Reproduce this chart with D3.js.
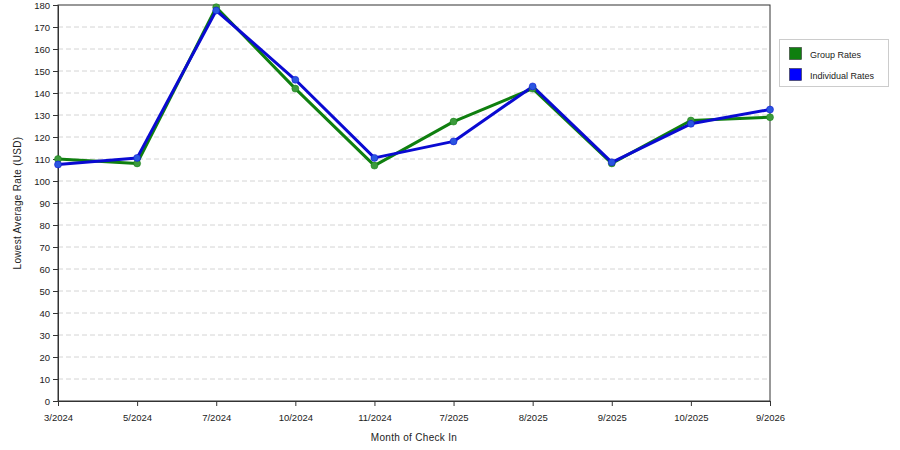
<!DOCTYPE html>
<html><head><meta charset="utf-8">
<script src="https://cdn.jsdelivr.net/npm/d3@7"></script>
<style>body{margin:0;background:#fff;} svg{display:block;font-family:"Liberation Sans",Arial,sans-serif;}</style>
</head><body>
<svg id="c" width="900" height="450"></svg>
<script>
const categories = ["3/2024","5/2024","7/2024","10/2024","11/2024","7/2025","8/2025","9/2025","10/2025","9/2026"];
const groupRates = [110, 108, 179, 142, 107, 127, 142, 108, 127.5, 129];
const individualRates = [107.5, 110.5, 177.5, 146, 110.5, 118, 143, 108.5, 126, 132.5];
const yTicks = d3.range(0, 181, 10);
const seriesNames = ["Group Rates", "Individual Rates"];
const lineColors = ["#0f7f0f", "#0a0ad2"];
const markerColors = ["#3c9a3c", "#2a55e0"];

const svg = d3.select("#c");
const m = {l:58, r:770, t:5, b:401};
const x = d3.scalePoint().domain(categories).range([m.l, m.r]).padding(0);
const y = d3.scaleLinear().domain([0,180]).range([m.b, m.t]);

// gridlines
svg.append("g").selectAll("line").data(yTicks.filter(d=>d>0 && d<180)).join("line")
  .attr("x1", m.l).attr("x2", m.r).attr("y1", d=>y(d)).attr("y2", d=>y(d))
  .attr("stroke", "#d4d4d4").attr("stroke-dasharray", "5,3").attr("stroke-width", 1);

// frame
svg.append("rect").attr("x", m.l).attr("y", m.t).attr("width", m.r-m.l).attr("height", m.b-m.t)
  .attr("fill","none").attr("stroke","#333").attr("stroke-width",1);

// axes
const yAxis = svg.append("g").attr("transform", `translate(${m.l},0)`)
  .call(d3.axisLeft(y).tickValues(yTicks).tickSize(5).tickPadding(3));
const xAxis = svg.append("g").attr("transform", `translate(0,${m.b})`)
  .call(d3.axisBottom(x).tickSize(5).tickPadding(8));
[yAxis, xAxis].forEach(a=>{
  a.select(".domain").attr("stroke","#333");
  a.selectAll(".tick line").attr("stroke","#333");
  a.selectAll("text").attr("fill","#222").style("font-size","9.5px").style("font-family","'Liberation Sans',Arial,sans-serif");
});

// axis titles
svg.append("text").attr("x", 414).attr("y", 441).attr("text-anchor","middle")
  .style("font-size","10px").attr("fill","#222").attr("letter-spacing","0.3").text("Month of Check In");
svg.append("text").attr("transform","translate(21,203) rotate(-90)").attr("text-anchor","middle")
  .style("font-size","10px").attr("fill","#222").attr("letter-spacing","0.3").text("Lowest Average Rate (USD)");

// series
const series = [groupRates, individualRates];
const line = d3.line().x((d,i)=>x(categories[i])).y(d=>y(d));
series.forEach((s, k)=>{
  svg.append("path").datum(s).attr("d", line).attr("fill","none")
    .attr("stroke", lineColors[k]).attr("stroke-width", 3).attr("stroke-linejoin","round");
});
series.forEach((s, k)=>{
  svg.append("g").selectAll("circle").data(s).join("circle")
    .attr("cx",(d,i)=>x(categories[i])).attr("cy", d=>y(d)).attr("r", 3.5)
    .attr("fill", markerColors[k]).attr("stroke", lineColors[k]).attr("stroke-opacity",0.5).attr("stroke-width",1);
});

// legend
const lg = svg.append("g");
lg.append("rect").attr("x",779.5).attr("y",39.5).attr("width",109).attr("height",47)
  .attr("fill","#fff").attr("stroke","#ccc");
seriesNames.forEach((n,k)=>{
  lg.append("rect").attr("x",789.5).attr("y",47.5+k*21).attr("width",12).attr("height",12)
    .attr("fill", k===0?"#0f7f0f":"#0000ff").attr("stroke","#333").attr("stroke-width",0.6);
  lg.append("text").attr("x",810).attr("y",58+k*21).style("font-size","9px").attr("fill","#222").text(n);
});
</script>
</body></html>
